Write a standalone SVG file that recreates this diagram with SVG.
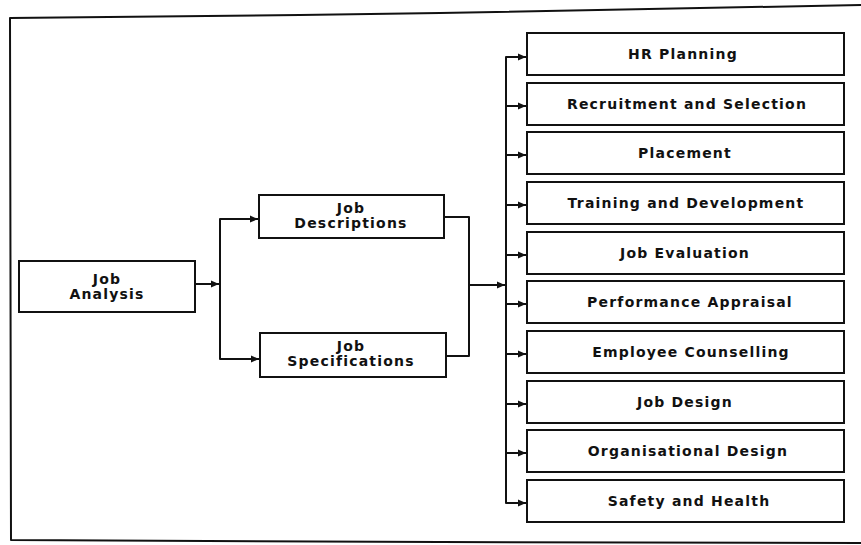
<svg xmlns="http://www.w3.org/2000/svg" width="861" height="545" viewBox="0 0 861 545">
<style>
.box{fill:#fff;stroke:#111;stroke-width:2}
.ln{fill:none;stroke:#111;stroke-width:2;stroke-linejoin:round}
.t{font-family:"DejaVu Sans","Liberation Sans",Arial,sans-serif;font-weight:bold;font-size:14px;letter-spacing:1.2px;fill:#111;text-anchor:middle}
</style>
<defs>
<marker id="ah" markerUnits="userSpaceOnUse" markerWidth="9" markerHeight="8" refX="8" refY="4" orient="auto">
<path d="M0,0.5 L8,4 L0,7.5 Z" fill="#111"/>
</marker>
</defs>
<rect width="861" height="545" fill="#fff"/>
<g id="frame">
<polyline class="ln" points="861,5 440,13 300,15 10,18 11,540 440,542 861,543"/>
</g>
<g id="connectors">
<path class="ln" d="M195,284 H219" marker-end="url(#ah)"/>
<path class="ln" d="M258,219 H220 V359 H259" marker-end="url(#ah)"/>
<path class="ln" d="M220,219 H258" marker-end="url(#ah)"/>
<path class="ln" d="M444,217 H469 V356 H446"/>
<path class="ln" d="M469,285 H505" marker-end="url(#ah)"/>
<path class="ln" d="M527,57 H506 V503 H526" marker-end="url(#ah)"/>
<path class="ln" d="M506,57 H526" marker-end="url(#ah)"/>
<path class="ln" d="M506,106 H526" marker-end="url(#ah)"/>
<path class="ln" d="M506,155 H526" marker-end="url(#ah)"/>
<path class="ln" d="M506,205 H526" marker-end="url(#ah)"/>
<path class="ln" d="M506,255 H526" marker-end="url(#ah)"/>
<path class="ln" d="M506,304 H526" marker-end="url(#ah)"/>
<path class="ln" d="M506,354 H526" marker-end="url(#ah)"/>
<path class="ln" d="M506,404 H526" marker-end="url(#ah)"/>
<path class="ln" d="M506,453 H526" marker-end="url(#ah)"/>
</g>
<g id="job-analysis"><rect class="box" x="19" y="261" width="176" height="51"/><text class="t" x="107" y="284">Job</text><text class="t" x="107" y="299">Analysis</text></g>
<g id="job-descriptions"><rect class="box" x="259" y="195" width="185" height="43"/><text class="t" x="351" y="213">Job</text><text class="t" x="351" y="228">Descriptions</text></g>
<g id="job-specifications"><rect class="box" x="260" y="333" width="186" height="44"/><text class="t" x="351" y="351">Job</text><text class="t" x="351" y="366">Specifications</text></g>
<g id="hr-planning"><rect class="box" x="527" y="33" width="317" height="42"/><text class="t" x="683" y="59">HR Planning</text></g>
<g id="recruitment"><rect class="box" x="527" y="83" width="317" height="42"/><text class="t" x="687" y="109">Recruitment and Selection</text></g>
<g id="placement"><rect class="box" x="527" y="132" width="317" height="42"/><text class="t" x="685" y="158">Placement</text></g>
<g id="training"><rect class="box" x="527" y="182" width="317" height="42"/><text class="t" x="686" y="208">Training and Development</text></g>
<g id="job-evaluation"><rect class="box" x="527" y="232" width="317" height="42"/><text class="t" x="685" y="258">Job Evaluation</text></g>
<g id="performance"><rect class="box" x="527" y="281" width="317" height="42"/><text class="t" x="690" y="307">Performance Appraisal</text></g>
<g id="counselling"><rect class="box" x="527" y="331" width="317" height="42"/><text class="t" x="691" y="357">Employee Counselling</text></g>
<g id="job-design"><rect class="box" x="527" y="381" width="317" height="42"/><text class="t" x="685" y="407">Job Design</text></g>
<g id="org-design"><rect class="box" x="527" y="430" width="317" height="42"/><text class="t" x="688" y="456">Organisational Design</text></g>
<g id="safety"><rect class="box" x="527" y="480" width="317" height="42"/><text class="t" x="689" y="506">Safety and Health</text></g>
</svg>
